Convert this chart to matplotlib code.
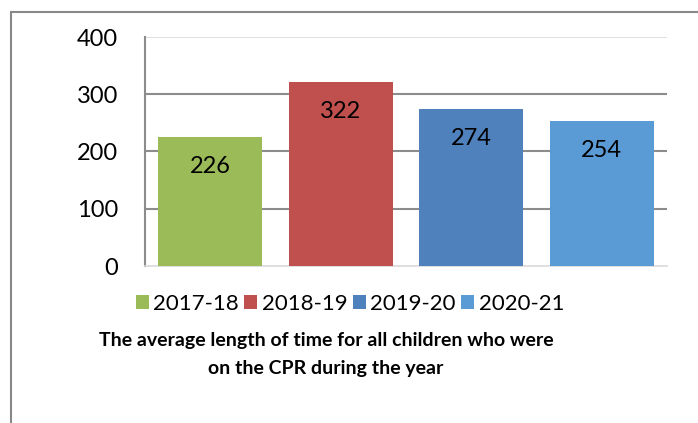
import matplotlib
matplotlib.use("Agg")
import matplotlib.pyplot as plt
from matplotlib.patches import Patch, Rectangle

plt.rcParams['font.family'] = ['Lato', 'DejaVu Sans']

years = ['2017-18', '2018-19', '2019-20', '2020-21']
values = [226, 322, 274, 254]
colors = ['#9bbb59', '#c0504d', '#4f81bd', '#5b9bd5']
yticks = [0, 100, 200, 300, 400]

W, H = 698, 423
fig = plt.figure(figsize=(W / 100, H / 100), dpi=100)

# outer chart frame (cut off at right and bottom)
fig.patches.append(Rectangle((11 / W, -0.1), 1.2, 1 - 12 / H + 0.1,
                             transform=fig.transFigure, fill=False,
                             edgecolor='#888888', linewidth=1.5))

ax = fig.add_axes([145 / W, 1 - 266 / H, (667 - 145) / W, (266 - 37) / H])

x = range(len(years))
bars = ax.bar(x, values, width=0.8, color=colors, zorder=3)
for b, v in zip(bars, values):
    ax.text(b.get_x() + b.get_width() / 2, v - 52, str(v),
            ha='center', va='center', fontsize=17, zorder=4)

ax.set_xlim(-0.5, 3.5)
ax.set_ylim(0, 400)
ax.set_yticks(yticks)
ax.set_yticklabels([str(t) for t in yticks], fontsize=17)
ax.set_xticks([])
ax.tick_params(axis='y', length=0, pad=19.5)

for t in [100, 200, 300]:
    ax.axhline(t, color='#8c8c8c', linewidth=1.5, zorder=1)
ax.axhline(400, color='#d9d9d9', linewidth=1.2, zorder=1)

for s in ['top', 'right']:
    ax.spines[s].set_visible(False)
ax.spines['left'].set_color('#8c8c8c')
ax.spines['left'].set_linewidth(1.5)
ax.spines['bottom'].set_color('#d9d9d9')
ax.spines['bottom'].set_linewidth(1.2)

handles = [Patch(facecolor=c, label=y) for c, y in zip(colors, years)]
fig.legend(handles=handles, loc='center', bbox_to_anchor=(350 / W, 1 - 304 / H),
           ncol=4, frameon=False, fontsize=16, handlelength=0.58, handleheight=0.58,
           handletextpad=0.2, columnspacing=0.25, borderpad=0, borderaxespad=0)

fig.text(326 / W, 1 - 340 / H, 'The average length of time for all children who were',
         ha='center', va='center', fontsize=14, fontweight='bold')
fig.text(326 / W, 1 - 368 / H, 'on the CPR during the year',
         ha='center', va='center', fontsize=14, fontweight='bold')

fig.savefig('out.png', dpi=100)
